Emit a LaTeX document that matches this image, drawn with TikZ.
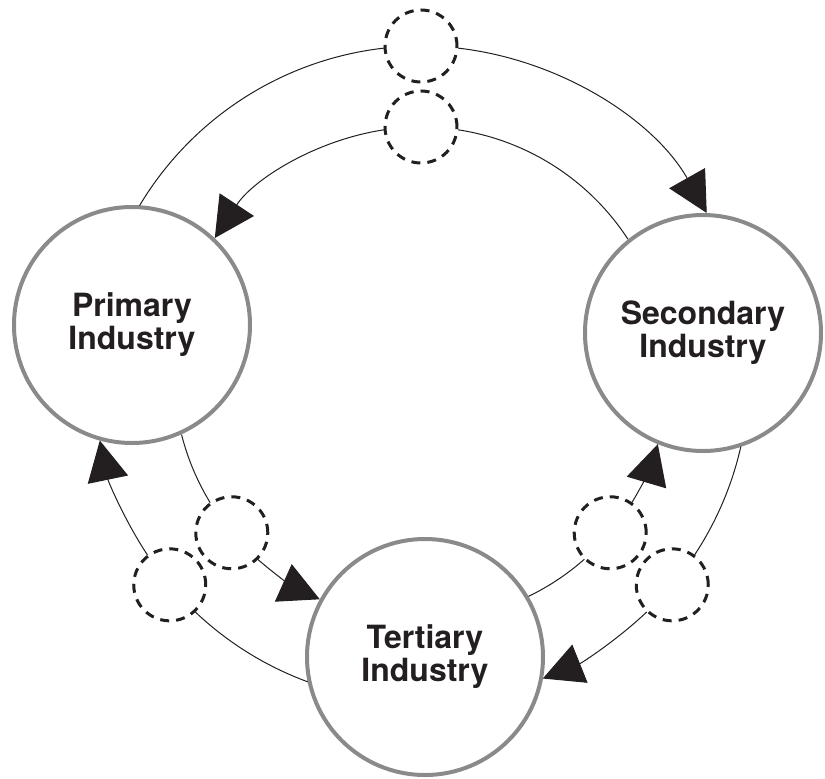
\documentclass[tikz,border=0pt]{standalone}
\usepackage{fontspec}
\setmainfont{TeX Gyre Heros}
\usetikzlibrary{arrows.meta}

\definecolor{ink}{HTML}{231F20}
\definecolor{rim}{HTML}{898A8C}

\begin{document}
\begin{tikzpicture}[x=0.5pt,y=0.5pt,
    industry/.style={circle,draw=rim,line width=2pt,fill=white,minimum size=118pt,
      inner sep=0pt,align=center,text=ink,font=\fontsize{16}{16.5}\selectfont\bfseries},
    hole/.style={circle,draw=ink,line width=1.5pt,dash pattern=on 4.5pt off 3.5pt,
      minimum size=36pt,inner sep=0pt},
    flow/.style={ink,line width=0.5pt},
    tip/.style={flow,-{Triangle[length=20pt,width=20.5pt]}}]
  \useasboundingbox (-421,-404) rectangle (404,374);
  \coordinate (hub) at (0,0);

  \node[industry] (primary)   at (-289,49)  {Primary\\Industry};
  \node[industry] (secondary) at (282,41)   {Secondary\\Industry};
  \node[industry] (tertiary)  at (4,-283)   {Tertiary\\Industry};

  % gaps on the outer and inner ring
  \node[hole] (topout)   at (90:328)  {};
  \node[hole] (topin)    at (90:247)  {};
  \node[hole] (leftout)  at (220:328) {};
  \node[hole] (leftin)   at (220:247) {};
  \node[hole] (rightout) at (320:328) {};
  \node[hole] (rightin)  at (320:247) {};

  % outer ring, clockwise
  \draw[flow] (hub) ++(149.1:328) arc[start angle=149.1,end angle=96.5,radius=328];
  \draw[tip]  (hub) ++(83.5:328)  arc[start angle=83.5,end angle=29.4,radius=328];
  \draw[flow] (hub) ++(-12.8:328) arc[start angle=-12.8,end angle=-33.5,radius=328];
  \draw[tip]  (hub) ++(-46.5:328) arc[start angle=-46.5,end angle=-68.2,radius=328];
  \draw[flow] (hub) ++(-110.2:328) arc[start angle=-110.2,end angle=-133.5,radius=328];
  \draw[tip]  (hub) ++(-146.5:328) arc[start angle=-146.5,end angle=-168.3,radius=328];

  % inner ring, counter-clockwise
  \draw[flow] (hub) ++(33.1:247)  arc[start angle=33.1,end angle=81.4,radius=247];
  \draw[tip]  (hub) ++(98.6:247)  arc[start angle=98.6,end angle=146.6,radius=247];
  \draw[flow] (hub) ++(194.2:247) arc[start angle=194.2,end angle=211.4,radius=247];
  \draw[tip]  (hub) ++(228.6:247) arc[start angle=228.6,end angle=245.8,radius=247];
  \draw[flow] (hub) ++(295.8:247) arc[start angle=295.8,end angle=311.4,radius=247];
  \draw[tip]  (hub) ++(328.6:247) arc[start angle=328.6,end angle=343.5,radius=247];
\end{tikzpicture}
\end{document}
